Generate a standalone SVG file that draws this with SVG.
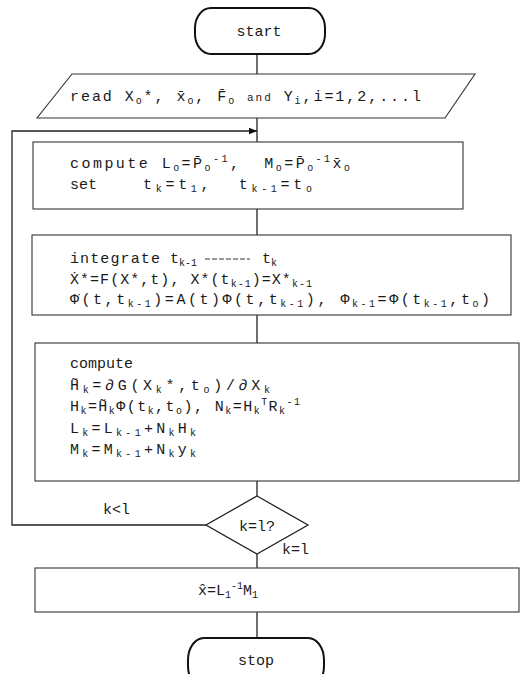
<svg xmlns="http://www.w3.org/2000/svg" width="530" height="674" viewBox="0 0 530 674">
<defs>
<marker id="ah" viewBox="0 0 10 10" refX="10" refY="5" markerWidth="8" markerHeight="8" markerUnits="userSpaceOnUse" orient="auto">
<path d="M0,1 L10,5 L0,9 z" fill="#111"/>
</marker>
<style>
.t{font-family:"Liberation Mono","DejaVu Sans Mono",monospace;font-size:15px;fill:#1a1a1a;white-space:pre}
.s{font-size:10px;baseline-shift:-3px}
.u{font-size:10px;baseline-shift:6px}
.sm{font-size:11px}
.box{fill:none;stroke:#333;stroke-width:1.1}
.term{fill:none;stroke:#111;stroke-width:2}
.ln{fill:none;stroke:#222;stroke-width:1.3}
</style>
</defs>
<rect width="530" height="674" fill="#fff"/>

<g id="connectors">
<line class="ln" x1="257" y1="54" x2="257" y2="74"/>
<line class="ln" x1="257" y1="118" x2="257" y2="142"/>
<line class="ln" x1="257" y1="209" x2="257" y2="235"/>
<line class="ln" x1="257" y1="315" x2="257" y2="343"/>
<line class="ln" x1="257" y1="481" x2="257" y2="496"/>
<line class="ln" x1="257" y1="554" x2="257" y2="568"/>
<line class="ln" x1="257" y1="612" x2="257" y2="638"/>
<polyline class="ln" points="206,525 12,525 12,131 257,131" marker-end="url(#ah)"/>
<text class="t" x="103" y="514">k&lt;l</text>
<text class="t" x="282" y="554">k=l</text>
</g>

<g id="start">
<rect class="term" x="195" y="8" width="130" height="46" rx="16" ry="20"/>
<text class="t" x="259" y="36" text-anchor="middle">start</text>
</g>

<g id="read">
<polygon class="box" points="72,74 475,74 445,118 37,118"/>
<text class="t" x="70" y="101" textLength="351" lengthAdjust="spacing">read X<tspan class="s">o</tspan>*, x&#x304;<tspan class="s">o</tspan>, F&#x304;<tspan class="s">o</tspan> <tspan class="sm">and</tspan> Y<tspan class="s">i</tspan>,i=1,2,...l</text>
</g>

<g id="init">
<rect class="box" x="33" y="142" width="430" height="67"/>
<text class="t" x="70" y="168" textLength="280" lengthAdjust="spacing">compute L<tspan class="s">o</tspan>=P&#x304;<tspan class="s">o</tspan><tspan class="u">-1</tspan>,  M<tspan class="s">o</tspan>=P&#x304;<tspan class="s">o</tspan><tspan class="u">-1</tspan>x&#x304;<tspan class="s">o</tspan></text>
<text class="t" x="70" y="189">set</text>
<text class="t" x="143" y="189" textLength="169" lengthAdjust="spacing">t<tspan class="s">k</tspan>=t<tspan class="s">1</tspan>,  t<tspan class="s">k-1</tspan>=t<tspan class="s">o</tspan></text>
</g>

<g id="integrate">
<rect class="box" x="32" y="235" width="479" height="80"/>
<text class="t" x="70" y="263" textLength="90" lengthAdjust="spacing">integrate</text>
<text class="t" x="170" y="263">t<tspan class="s">k-1</tspan></text>
<line x1="205" y1="259" x2="250" y2="259" stroke="#333" stroke-width="1" stroke-dasharray="5,2"/>
<text class="t" x="262" y="263">t<tspan class="s">k</tspan></text>
<text class="t" x="70" y="284" textLength="242" lengthAdjust="spacing">X&#x307;*=F(X*,t), X*(t<tspan class="s">k-1</tspan>)=X*<tspan class="s">k-1</tspan></text>
<text class="t" x="70" y="304" textLength="420" lengthAdjust="spacing">&#x3A6;&#x307;(t,t<tspan class="s">k-1</tspan>)=A(t)&#x3A6;(t,t<tspan class="s">k-1</tspan>), &#x3A6;<tspan class="s">k-1</tspan>=&#x3A6;(t<tspan class="s">k-1</tspan>,t<tspan class="s">o</tspan>)</text>
</g>

<g id="update">
<rect class="box" x="35" y="343" width="484" height="138"/>
<text class="t" x="70" y="368">compute</text>
<text class="t" x="70" y="390" textLength="200" lengthAdjust="spacing">H&#x303;<tspan class="s">k</tspan>=&#x2202;G(X<tspan class="s">k</tspan>*,t<tspan class="s">o</tspan>)/&#x2202;X<tspan class="s">k</tspan></text>
<text class="t" x="70" y="411" textLength="230" lengthAdjust="spacing">H<tspan class="s">k</tspan>=H&#x303;<tspan class="s">k</tspan>&#x3A6;(t<tspan class="s">k</tspan>,t<tspan class="s">o</tspan>), N<tspan class="s">k</tspan>=H<tspan class="s">k</tspan><tspan class="u">T</tspan>R<tspan class="s">k</tspan><tspan class="u">-1</tspan></text>
<text class="t" x="70" y="433" textLength="126" lengthAdjust="spacing">L<tspan class="s">k</tspan>=L<tspan class="s">k-1</tspan>+N<tspan class="s">k</tspan>H<tspan class="s">k</tspan></text>
<text class="t" x="70" y="454" textLength="126" lengthAdjust="spacing">M<tspan class="s">k</tspan>=M<tspan class="s">k-1</tspan>+N<tspan class="s">k</tspan>y<tspan class="s">k</tspan></text>
</g>

<g id="decision">
<polygon class="ln" points="257,496 308,525 257,554 206,525"/>
<text class="t" x="257" y="531" text-anchor="middle">k=l?</text>
</g>

<g id="result">
<rect class="box" x="35" y="568" width="484" height="44"/>
<text class="t" x="198" y="595">x&#x302;=L<tspan class="s">1</tspan><tspan class="u">-1</tspan>M<tspan class="s">1</tspan></text>
</g>

<g id="stop">
<rect class="term" x="188" y="638" width="136" height="50" rx="16" ry="22"/>
<text class="t" x="256" y="665" text-anchor="middle">stop</text>
</g>
</svg>
